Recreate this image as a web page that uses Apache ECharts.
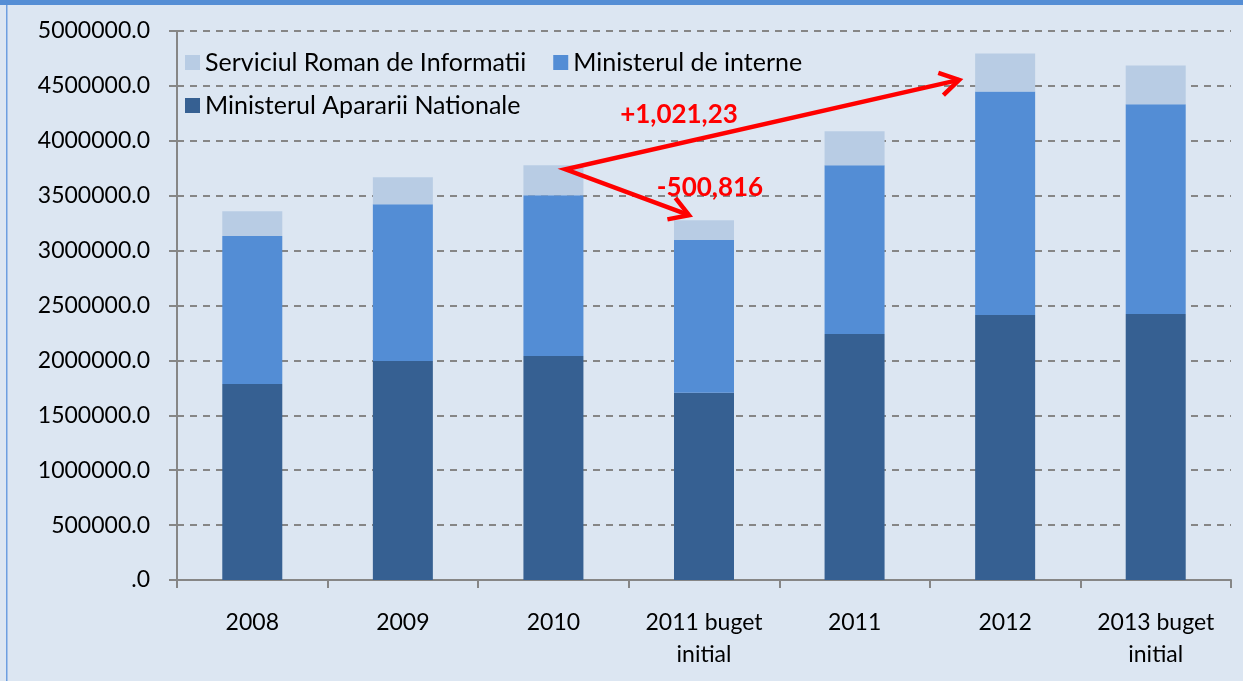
<!DOCTYPE html>
<html>
<head>
<meta charset="utf-8">
<title>Buget</title>
<script src="https://cdn.jsdelivr.net/npm/echarts@6/dist/echarts.min.js"></script>
<style>
  html, body { margin: 0; padding: 0; background: #dce6f2; }
  #chart { width: 1243px; height: 681px; }
</style>
</head>
<body>
<div id="chart"></div>
<script>
// categorii
const categories = ['2008', '2009', '2010', '2011 buget\ninitial', '2011', '2012', '2013 buget\ninitial']

// valori
const manValues = [1786000, 1995000, 2041000, 1705000, 2241000, 2414000, 2423000]   // Ministerul Apararii Nationale
const miValues  = [1346000, 1428000, 1464000, 1391000, 1536000, 2036000, 1909000]   // Ministerul de interne
const sriValues = [227000, 245000, 272000, 181000, 309000, 345000, 354000]          // Serviciul Roman de Informatii

// axa y
const yMin = 0
const yMax = 5000000
const yStep = 500000

// adnotari (sageti rosii): [categorie, valoare]
const arrowStart = [2, 3741000]
const arrowUp = [5, 4555000]
const arrowDown = [3, 3323000]
const labelUp = '+1,021,23'
const labelDown = '-500,816'

const FONT = 'Lato, "Open Sans", sans-serif'
const C_MAN = '#366092'
const C_MI = '#538dd5'
const C_SRI = '#b8cce4'

const chart = echarts.init(document.getElementById('chart'))

const legendText = { color: '#000', fontSize: 25, fontFamily: FONT }

const option = {
    backgroundColor: '#dce6f2',
    animation: false,
    textStyle: { fontFamily: FONT },
    grid: { left: 177, right: 12, top: 31, bottom: 101 },
    legend: [
        {
            data: ['Serviciul Roman de Informatii', 'Ministerul de interne'],
            left: 180, top: 45,
            itemWidth: 15, itemHeight: 15, itemGap: 27,
            icon: 'rect',
            textStyle: legendText
        },
        {
            data: ['Ministerul Apararii Nationale'],
            left: 180, top: 88,
            itemWidth: 15, itemHeight: 15,
            icon: 'rect',
            textStyle: legendText
        }
    ],
    xAxis: {
        type: 'category',
        data: categories,
        axisLine: { lineStyle: { color: '#868686', width: 2 } },
        axisTick: { show: true, length: 8, lineStyle: { color: '#868686', width: 2 } },
        axisLabel: { color: '#000', fontSize: 23, lineHeight: 32, margin: 27, fontFamily: FONT, interval: 0 }
    },
    yAxis: {
        type: 'value',
        min: yMin, max: yMax, interval: yStep,
        axisLine: { show: true, lineStyle: { color: '#868686', width: 2 } },
        axisTick: { show: true, length: 8, lineStyle: { color: '#868686', width: 2 } },
        axisLabel: {
            color: '#000', fontSize: 23, margin: 27, fontFamily: FONT,
            formatter: v => (v === 0 ? '.0' : v.toFixed(1))
        },
        splitLine: { show: true, lineStyle: { color: '#868686', width: 2, type: [7, 6] } }
    },
    series: [
        {
            name: 'Ministerul Apararii Nationale', type: 'bar', stack: 'total',
            barWidth: 60, itemStyle: { color: C_MAN }, data: manValues
        },
        {
            name: 'Ministerul de interne', type: 'bar', stack: 'total',
            barWidth: 60, itemStyle: { color: C_MI }, data: miValues
        },
        {
            name: 'Serviciul Roman de Informatii', type: 'bar', stack: 'total',
            barWidth: 60, itemStyle: { color: C_SRI }, data: sriValues
        }
    ]
}

chart.setOption(option)

// sagetile se pozitioneaza din coordonatele axelor
function px (pt, dx) {
    const p = chart.convertToPixel({ gridIndex: 0 }, pt)
    return [p[0] + dx, p[1]]
}
function head (from, to, len, ang) {
    const a = Math.atan2(from[1] - to[1], from[0] - to[0])
    return [
        [to[0] + len * Math.cos(a + ang), to[1] + len * Math.sin(a + ang)],
        to,
        [to[0] + len * Math.cos(a - ang), to[1] + len * Math.sin(a - ang)]
    ]
}

const s = px(arrowStart, 12)
const t1 = px(arrowUp, -46)
const t2 = px(arrowDown, -15)
const red = '#ff0000'
const lineStyle = { stroke: red, lineWidth: 4.5, lineJoin: 'miter', lineCap: 'butt', fill: null }

chart.setOption({
    graphic: [
        { type: 'rect', left: 0, top: 0, shape: { width: 1243, height: 5 }, style: { fill: '#558ed5' }, z: 100 },
        { type: 'rect', left: 6, top: 5, shape: { width: 1.5, height: 676 }, style: { fill: '#6d9ee0' }, z: 100 },
        { type: 'polyline', shape: { points: [t1, s, t2] }, style: lineStyle, z: 100 },
        { type: 'polyline', shape: { points: head(s, t1, 22, 0.55) }, style: lineStyle, z: 100 },
        { type: 'polyline', shape: { points: head(s, t2, 22, 0.55) }, style: lineStyle, z: 100 },
        {
            type: 'text', x: 679, y: 115, z: 100,
            style: { text: labelUp, fill: red, font: 'bold 26px ' + FONT, align: 'center', verticalAlign: 'middle' }
        },
        {
            type: 'text', x: 710, y: 188, z: 100,
            style: { text: labelDown, fill: red, font: 'bold 26px ' + FONT, align: 'center', verticalAlign: 'middle' }
        }
    ]
})
</script>
</body>
</html>
